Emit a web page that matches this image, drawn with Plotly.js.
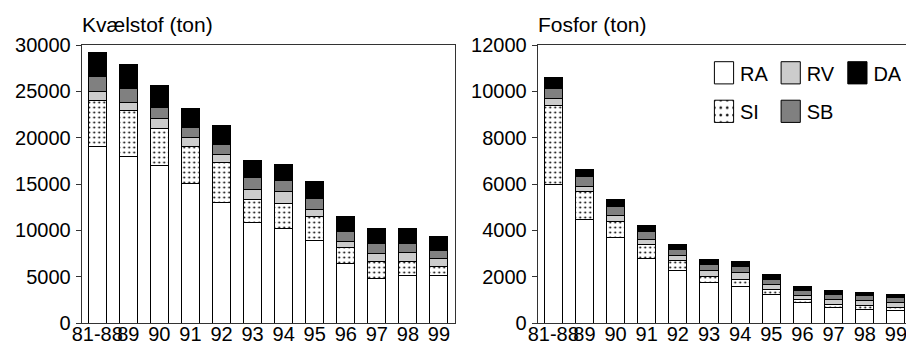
<!DOCTYPE html>
<html><head><meta charset="utf-8">
<script src="https://cdn.plot.ly/plotly-3.0.1.min.js"></script>
<style>html,body{margin:0;padding:0;overflow:hidden;background:#fff}#chart{width:912px;height:342px}</style>
</head><body><div id="chart"></div>
<script>
const categories = ['81-88','89','90','91','92','93','94','95','96','97','98','99'];
const seriesNames = ['RA','SI','RV','SB','DA'];

// Kvælstof (ton)
const nRA = [19000, 18000, 16950, 15100, 13050, 10800, 10250, 8900, 6400, 4800, 5150, 5100];
const nSI = [5000, 4950, 4000, 4000, 4250, 2550, 2700, 2550, 1750, 1850, 1450, 950];
const nRV = [1000, 850, 1100, 950, 850, 1050, 1250, 850, 600, 800, 1000, 900];
const nSB = [1550, 1550, 1200, 1000, 1150, 1250, 1200, 1100, 1100, 1100, 950, 900];
const nDA = [2600, 2600, 2400, 2100, 2000, 1850, 1750, 1850, 1600, 1600, 1600, 1500];

// Fosfor (ton)
const pRA = [6000, 4460, 3690, 2790, 2270, 1750, 1580, 1240, 880, 660, 590, 560];
const pSI = [3400, 1200, 690, 600, 420, 260, 300, 210, 150, 155, 160, 115];
const pRV = [290, 250, 270, 230, 230, 260, 320, 220, 150, 200, 215, 230];
const pSB = [430, 400, 390, 350, 260, 270, 250, 220, 230, 215, 215, 215];
const pDA = [460, 320, 290, 250, 220, 190, 200, 190, 170, 160, 145, 130];

const leftTitle = 'Kvælstof (ton)';
const rightTitle = 'Fosfor (ton)';

const nData = {RA:nRA, SI:nSI, RV:nRV, SB:nSB, DA:nDA};
const pData = {RA:pRA, SI:pSI, RV:pRV, SB:pSB, DA:pDA};
const colors = {RA:'#ffffff', SI:'#ffffff', RV:'#cccccc', SB:'#808080', DA:'#000000'};

function mk(name, vals, xa, ya, show) {
  const t = {
    type:'bar', name:name, x:categories, y:vals, xaxis:xa, yaxis:ya,
    showlegend:show, legendgroup:name,
    legend: (name==='SI' || name==='SB') ? 'legend2' : 'legend',
    marker:{color:colors[name], line:{color:'#000', width:1}},
    hoverinfo:'skip'
  };
  if (name === 'SI') {
    t.marker.pattern = {shape:'.', fgcolor:'#000', bgcolor:'#fff', size:5, solidity:0.12};
  }
  return t;
}

const traces = [];
seriesNames.forEach(n => traces.push(mk(n, nData[n], 'x', 'y', true)));
seriesNames.forEach(n => traces.push(mk(n, pData[n], 'x2', 'y2', false)));

const W = 912, H = 342, mt = 44.7, mb = 19.4;
const ph = H - mt - mb;
const font = 'Liberation Sans, Arial, sans-serif';

const xBase = {type:'category', range:[-0.5, 11.5], showline:true, linecolor:'#333', linewidth:1,
  mirror:true, ticks:'', tickangle:0, showgrid:false, zeroline:false, tickfont:{size:20, family:font, color:'#000'},
  fixedrange:true, ticklabelstandoff:-7};
const yBase = {ticks:'outside', ticklen:5, tickcolor:'#333', tickwidth:1, showline:true, linecolor:'#333',
  linewidth:1, mirror:true, showgrid:false, zeroline:false, tickformat:'d', tick0:0,
  tickfont:{size:20, family:font, color:'#000'}, fixedrange:true, ticklabelstandoff:1};

const layout = {
  width:W, height:H,
  margin:{l:0, r:0, t:mt, b:mb, pad:0},
  barmode:'stack', bargap:0.42,
  paper_bgcolor:'#fff', plot_bgcolor:'#fff',
  font:{family:font, size:20, color:'#000'},
  showlegend:true,
  xaxis:Object.assign({}, xBase, {domain:[81.7/W, 454.5/W], anchor:'y'}),
  yaxis:Object.assign({}, yBase, {domain:[0,1], range:[0,30000], dtick:5000, anchor:'x'}),
  xaxis2:Object.assign({}, xBase, {domain:[537.7/W, 911.5/W], anchor:'y2'}),
  yaxis2:Object.assign({}, yBase, {domain:[0,1], range:[0,12000], dtick:2000, anchor:'x2'}),
  legend:{orientation:'h', x:700/W, xanchor:'left', y:(H - mb - 53)/ph, yanchor:'top',
    entrywidth:21.7, entrywidthmode:'pixels', traceorder:'normal', bgcolor:'rgba(0,0,0,0)',
    borderwidth:0, font:{size:20, family:font, color:'#000'}},
  legend2:{orientation:'h', x:700/W, xanchor:'left', y:(H - mb - 91.5)/ph, yanchor:'top',
    entrywidth:21.7, entrywidthmode:'pixels', traceorder:'normal', bgcolor:'rgba(0,0,0,0)',
    borderwidth:0, font:{size:20, family:font, color:'#000'}},
  annotations:[
    {text:leftTitle, xref:'x domain', yref:'y domain', x:0, y:1, xanchor:'left', yanchor:'bottom',
     showarrow:false, yshift:7, xshift:-2, font:{size:21, family:font, color:'#000'}},
    {text:rightTitle, xref:'x2 domain', yref:'y2 domain', x:0, y:1, xanchor:'left', yanchor:'bottom',
     showarrow:false, yshift:7, xshift:-2, font:{size:21, family:font, color:'#000'}}
  ]
};

const gd = document.getElementById('chart');
Plotly.newPlot(gd, traces, layout, {staticPlot:true, displayModeBar:false}).then(() => {
  gd.querySelectorAll('.legendpoints path').forEach(p => {
    const prev = p.getAttribute('transform') || '';
    p.setAttribute('transform', prev + ' translate(4,0) scale(1.6,1.85)');
    p.style.vectorEffect = 'non-scaling-stroke';
  });
});
</script>
</body></html>
